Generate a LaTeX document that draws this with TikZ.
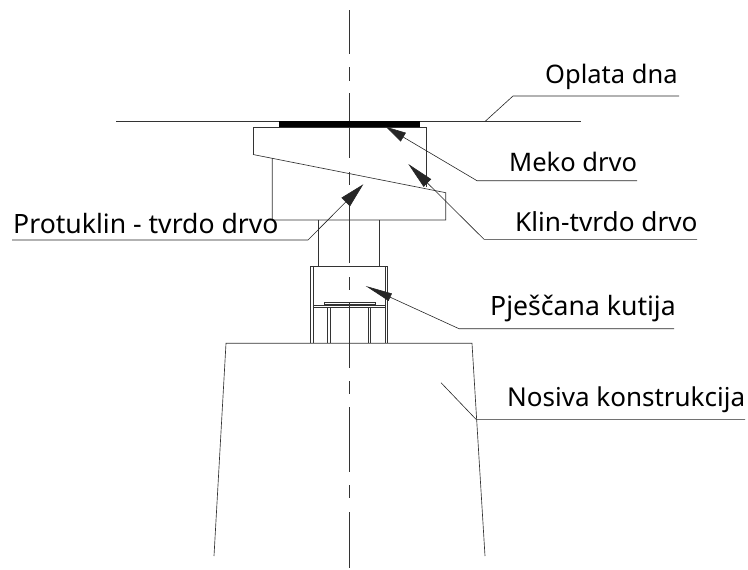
\documentclass[tikz,border=0pt]{standalone}
\usepackage{fontspec}
\setmainfont{Noto Sans}
\usetikzlibrary{arrows.meta}
\tikzset{
  ln/.style={line width=0.65pt,black!80},
  lbl/.style={anchor=base west,inner sep=0pt,font=\fontsize{#1}{28}\selectfont,text=black},
  lbl/.default=25.5,
  lead/.style={line width=0.6pt,black!85},
}
\begin{document}
\begin{tikzpicture}[x=1pt,y=-1pt]
\useasboundingbox (0,0) rectangle (748,570);
\draw[ln] (349,10) -- (349,54) (349,67) -- (349,81) (349,93) -- (349,158) (349,172) -- (349,185) (349,198) -- (349,263) (349,277) -- (349,290) (349,302) -- (349,368) (349,381) -- (349,394) (349,407) -- (349,472) (349,485) -- (349,498) (349,512) -- (349,568);
\draw[ln] (116,121.5) -- (581,121.5);
\fill (279,121) rectangle (419.5,127.5);
\draw[ln] (253,154.5) -- (253,127.5) -- (426,127.5) -- (426,187);
\draw[ln] (253,154.5) -- (445.7,192.7) -- (445.7,220) -- (272.3,220) -- (272.3,158);
\draw[ln] (318.3,220) -- (318.3,266.7) (379.7,220) -- (379.7,266.7);
\draw[ln] (310.7,343.3) -- (310.7,266.7) -- (387.7,266.7) -- (387.7,343.3);
\draw[ln] (313.3,266.7) -- (313.3,343.3) (385.3,266.7) -- (385.3,343.3);
\draw[ln] (324.3,302.3) rectangle (375,304.7);
\draw[ln] (313.3,305) -- (385.3,305) (313.3,307.3) -- (385.3,307.3);
\draw[ln] (327.3,307.3) -- (327.3,343.3) (330.7,307.3) -- (330.7,343.3) (368.3,307.3) -- (368.3,343.3) (370.7,307.3) -- (370.7,343.3);
\draw[ln] (214,556) -- (226,343.3) -- (472,343.3) -- (485,556);
\node[lbl] (t1) at (545,83) {Oplata dna};
\node[lbl] (t2) at (509,171.7) {Meko drvo};
\node[lbl=26.2] (t3) at (515,231) {Klin-tvrdo drvo};
\node[lbl=26.6] (t4) at (13,233) {Protuklin - tvrdo drvo};
\node[lbl=26.6] (t5) at (490,315.7) {Pješčana kutija};
\node[lbl=26] (t6) at (507,406) {Nosiva konstrukcija};
\coordinate (e1) at (679,96);
\coordinate (e2) at (637,180.7);
\coordinate (e3) at (697,239.3);
\coordinate (e4) at (12,240);
\coordinate (e5) at (674,328.7);
\coordinate (e6) at (745,419.3);
\draw[lead] (485,121.5) -- (513,96) -- (e1);
\draw[lead,{Triangle[length=20.5pt,width=10pt]}-] (385.7,126.7) -- (477,180.7) -- (e2);
\draw[lead,{Triangle[length=27pt,width=10.7pt]}-] (408.3,164) -- (484,239.3) -- (e3);
\draw[lead,{Triangle[length=25pt,width=12pt]}-] (363.3,184.3) -- (308,240) -- (e4);
\draw[lead,{Triangle[length=27pt,width=8pt]}-] (365.7,286) -- (459,328.7) -- (e5);
\draw[lead] (441,382.7) -- (476,419.3) -- (e6);
\end{tikzpicture}
\end{document}
